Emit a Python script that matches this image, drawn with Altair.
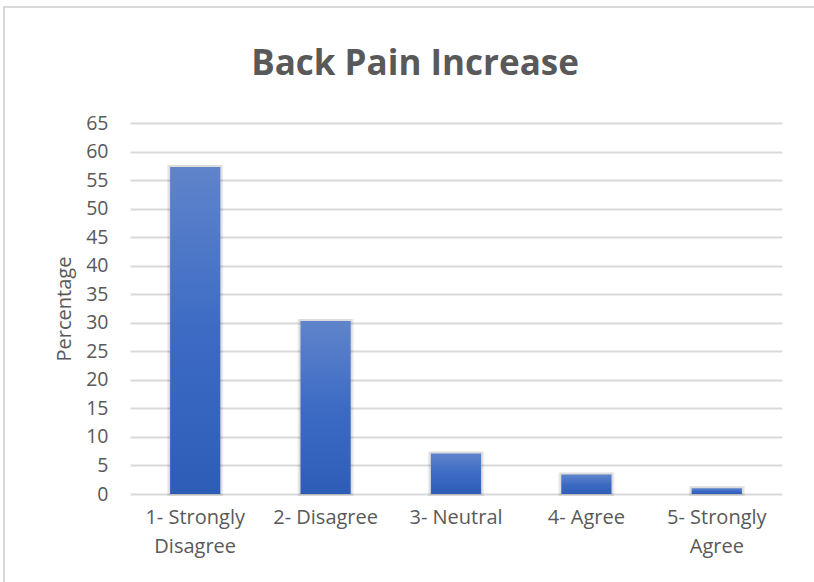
import altair as alt
import pandas as pd

# Survey responses: share of respondents (%) per answer
categories = ["1- Strongly|Disagree", "2- Disagree", "3- Neutral", "4- Agree", "5- Strongly|Agree"]
percentages = [57.3, 30.3, 7.1, 3.4, 1.0]
y_ticks = list(range(0, 70, 5))

df = pd.DataFrame({"response": categories, "pct": percentages})
df["shadow_top"] = df["pct"] + 0.35

FONT = "Open Sans"
TEXT = "#595959"
GRID = "#d9d9d9"

x_enc = alt.X(
    "response:N",
    sort=categories,
    scale=alt.Scale(paddingInner=0.0, paddingOuter=0.0),
    axis=alt.Axis(
        title=None,
        labelExpr="split(datum.label, '|')",
        labelAngle=0,
        labelFont=FONT,
        labelFontSize=20,
        labelColor=TEXT,
        labelLineHeight=29,
        labelPadding=13,
        ticks=False,
        domain=False,
        grid=False,
    ),
)

y_scale = alt.Scale(domain=[0, 65], nice=False)
y_axis = alt.Axis(
    title="Percentage",
    titleFont=FONT,
    titleFontSize=20,
    titleFontWeight="normal",
    titleColor=TEXT,
    titlePadding=11,
    values=y_ticks,
    labelFont=FONT,
    labelFontSize=19.5,
    labelColor=TEXT,
    labelPadding=22,
    ticks=False,
    domain=False,
    gridColor=GRID,
    gridWidth=2,
)

# soft shadow behind each bar
shadow = alt.Chart(df).mark_bar(
    width={"band": 0.43}, color="#000000", opacity=0.07
).encode(
    x=x_enc,
    y=alt.Y("shadow_top:Q", scale=y_scale, axis=y_axis),
    y2=alt.datum(-0.35),
)
shadow2 = alt.Chart(df).mark_bar(
    width={"band": 0.41}, color="#000000", opacity=0.07
).encode(
    x=x_enc,
    y=alt.Y("shadow_top:Q", scale=y_scale, axis=y_axis),
    y2=alt.datum(-0.2),
)

gradient = alt.Gradient(
    gradient="linear",
    stops=[
        alt.GradientStop(color="#5f84cb", offset=0),
        alt.GradientStop(color="#3d6bc4", offset=0.5),
        alt.GradientStop(color="#2e5db7", offset=1),
    ],
    x1=0, x2=0, y1=0, y2=1,
)

bars = alt.Chart(df).mark_bar(width={"band": 0.385}, color=gradient).encode(
    x=x_enc,
    y=alt.Y("pct:Q", scale=y_scale, axis=y_axis),
)

# outer chart frame
frame = alt.Chart(pd.DataFrame({"k": [0]})).mark_rect(
    fill=None, stroke=GRID, strokeWidth=2
).encode(
    x=alt.value(-126), x2=alt.value(720), y=alt.value(-116), y2=alt.value(500)
)

# the title sits inside the frame, so its offset is measured back down from the frame's top edge
chart = alt.layer(frame, shadow, shadow2, bars).properties(
    width=652,
    height=371,
    background="white",
    padding={"left": 130, "top": 123, "right": 32, "bottom": 88},
    autosize=alt.AutoSizeParams(type="none"),
    title=alt.TitleParams(
        "Back Pain Increase",
        font=FONT,
        fontSize=35,
        fontWeight="bold",
        color=TEXT,
        anchor="middle",
        frame="group",
        baseline="alphabetic",
        offset=-104,
        dx=-41,
    ),
).configure_view(stroke=None)

chart.save("out.html", embed_options={"renderer": "svg", "actions": False})
